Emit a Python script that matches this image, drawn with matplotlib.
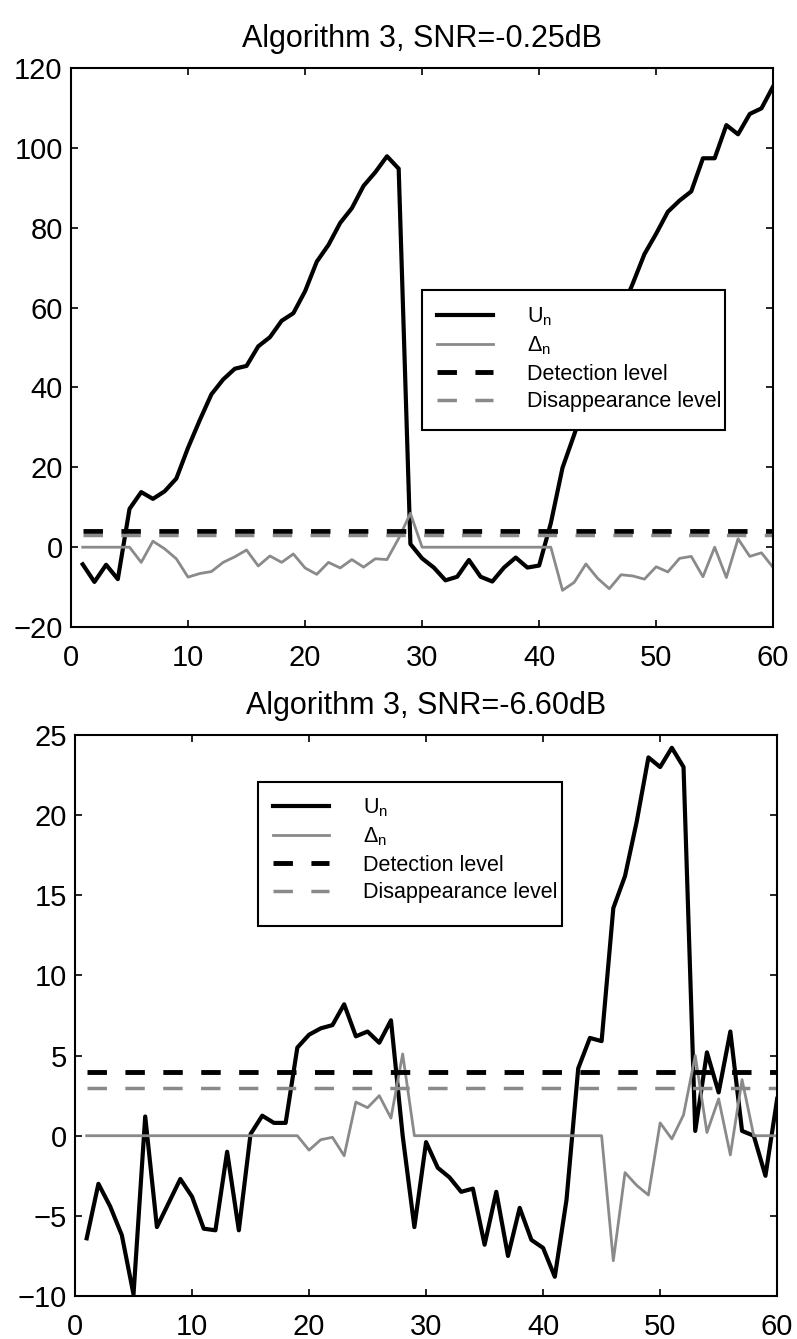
import matplotlib
matplotlib.use('Agg')
import numpy as np
import matplotlib.pyplot as plt
from matplotlib.patches import Rectangle

plt.rcParams['font.family'] = ['Liberation Sans', 'DejaVu Sans']
plt.rcParams['mathtext.fontset'] = 'custom'
plt.rcParams['mathtext.rm'] = 'Liberation Sans'
plt.rcParams['mathtext.default'] = 'regular'

n = np.arange(1, 61)

# top panel, SNR=-0.25dB
u_top = [-4.3, -8.7, -4.4, -8.0, 9.6, 13.8, 12.1, 14.0, 17.2, 24.9,
         31.8, 38.3, 42.0, 44.7, 45.4, 50.3, 52.6, 56.7, 58.6, 64.1,
         71.5, 75.7, 81.2, 84.9, 90.5, 93.9, 97.9, 94.8, 0.8, -2.8,
         -5.1, -8.3, -7.4, -3.2, -7.4, -8.6, -5.1, -2.6, -5.1, -4.6,
         6.0, 19.9, 28.2, 37.0, 45.0, 52.0, 59.0, 66.0, 73.4, 78.5,
         84.0, 86.8, 89.1, 97.4, 97.4, 105.7, 103.4, 108.5, 109.9, 115.4]
d_top = [0, 0, 0, 0, 0, -3.8, 1.5, -0.4, -2.9, -7.5,
         -6.6, -6.1, -3.8, -2.4, -0.7, -4.7, -2.2, -3.8, -1.7, -5.2,
         -6.8, -3.8, -5.2, -3.1, -5.0, -2.9, -3.1, 2.2, 8.5, 0,
         0, 0, 0, 0, 0, 0, 0, 0, 0, 0,
         0, -10.8, -8.8, -4.2, -7.8, -10.4, -6.9, -7.2, -8.0, -4.9,
         -6.2, -2.8, -2.3, -7.4, 0, -7.6, 2.1, -2.3, -1.4, -5.1]

# bottom panel, SNR=-6.60dB
u_bot = [-6.4, -3.0, -4.4, -6.2, -9.9, 1.2, -5.7, -4.2, -2.7, -3.8,
         -5.8, -5.9, -1.0, -5.9, 0.1, 1.25, 0.8, 0.8, 5.5, 6.3,
         6.7, 6.9, 8.2, 6.2, 6.5, 5.8, 7.2, 0.0, -5.7, -0.4,
         -2.0, -2.6, -3.5, -3.3, -6.8, -3.5, -7.5, -4.5, -6.5, -7.0,
         -8.8, -4.0, 4.2, 6.1, 5.9, 14.2, 16.2, 19.6, 23.6, 23.0,
         24.2, 23.0, 0.3, 5.2, 2.7, 6.5, 0.3, 0.0, -2.5, 2.3]
d_bot = [0, 0, 0, 0, 0, 0, 0, 0, 0, 0,
         0, 0, 0, 0, 0, 0, 0, 0, 0, -0.9,
         -0.25, -0.1, -1.25, 2.1, 1.75, 2.5, 1.1, 5.1, 0, 0,
         0, 0, 0, 0, 0, 0, 0, 0, 0, 0,
         0, 0, 0, 0, 0, -7.8, -2.3, -3.1, -3.7, 0.8,
         -0.2, 1.3, 5.0, 0.2, 2.3, -1.2, 3.5, 0, 0, 0]

detect_level = 4
disappear_level = 3

titles = ['Algorithm 3, SNR=-0.25dB', 'Algorithm 3, SNR=-6.60dB']
yticks_top = np.arange(-20, 121, 20)
yticks_bot = np.arange(-10, 26, 5)
xticks = np.arange(0, 61, 10)

labels = ['U$_\\mathregular{n}$', 'Δ$_\\mathregular{n}$',
          'Detection level', 'Disappearance level']

fig = plt.figure(figsize=(7.97, 13.39), dpi=100)
ax1 = fig.add_axes([0.0891, 0.5317, 0.881, 0.4175])
ax2 = fig.add_axes([0.0941, 0.0321, 0.881, 0.4190])

gray = '#8a8a8a'


def draw(ax, u, d, yt, title, box, anchor):
    ax.plot(n, u, color='black', lw=3.0, label=labels[0])
    ax.plot(n, d, color=gray, lw=2.0, label=labels[1])
    ax.plot([n[0], n[-1]], [detect_level] * 2, color='black', lw=3.5,
            linestyle=(0, (4.0, 3.8)), label=labels[2])
    ax.plot([n[0], n[-1]], [disappear_level] * 2, color=gray, lw=2.5,
            linestyle=(0, (5.6, 5.3)), label=labels[3])
    ax.set_xlim(0, 60)
    ax.set_ylim(yt[0], yt[-1])
    ax.set_xticks(xticks)
    ax.set_yticks(yt)
    ax.tick_params(direction='in', length=5, width=1.2, top=True, right=True,
                   labelsize=21)
    ax.tick_params(axis='x', pad=12)
    ax.tick_params(axis='y', pad=6)
    for s in ax.spines.values():
        s.set_linewidth(1.5)
    ax.set_title(title, fontsize=22, pad=15)
    # legend frame drawn by hand so the long label can run past it
    ax.add_patch(Rectangle((box[0], box[1]), box[2], box[3],
                           transform=ax.transAxes, facecolor='white',
                           edgecolor='black', lw=1.5, zorder=4))
    ax.legend(loc='upper left', bbox_to_anchor=anchor, fontsize=15.5,
              frameon=False, handlelength=2.6, handletextpad=1.6,
              labelspacing=0.3, borderpad=0, borderaxespad=0)


draw(ax1, u_top, d_top, yticks_top, titles[0],
     (0.500, 0.352, 0.432, 0.251), (0.521, 0.575))
draw(ax2, u_bot, d_bot, yticks_bot, titles[1],
     (0.261, 0.660, 0.433, 0.257), (0.282, 0.890))

fig.savefig('out.png', dpi=100)
